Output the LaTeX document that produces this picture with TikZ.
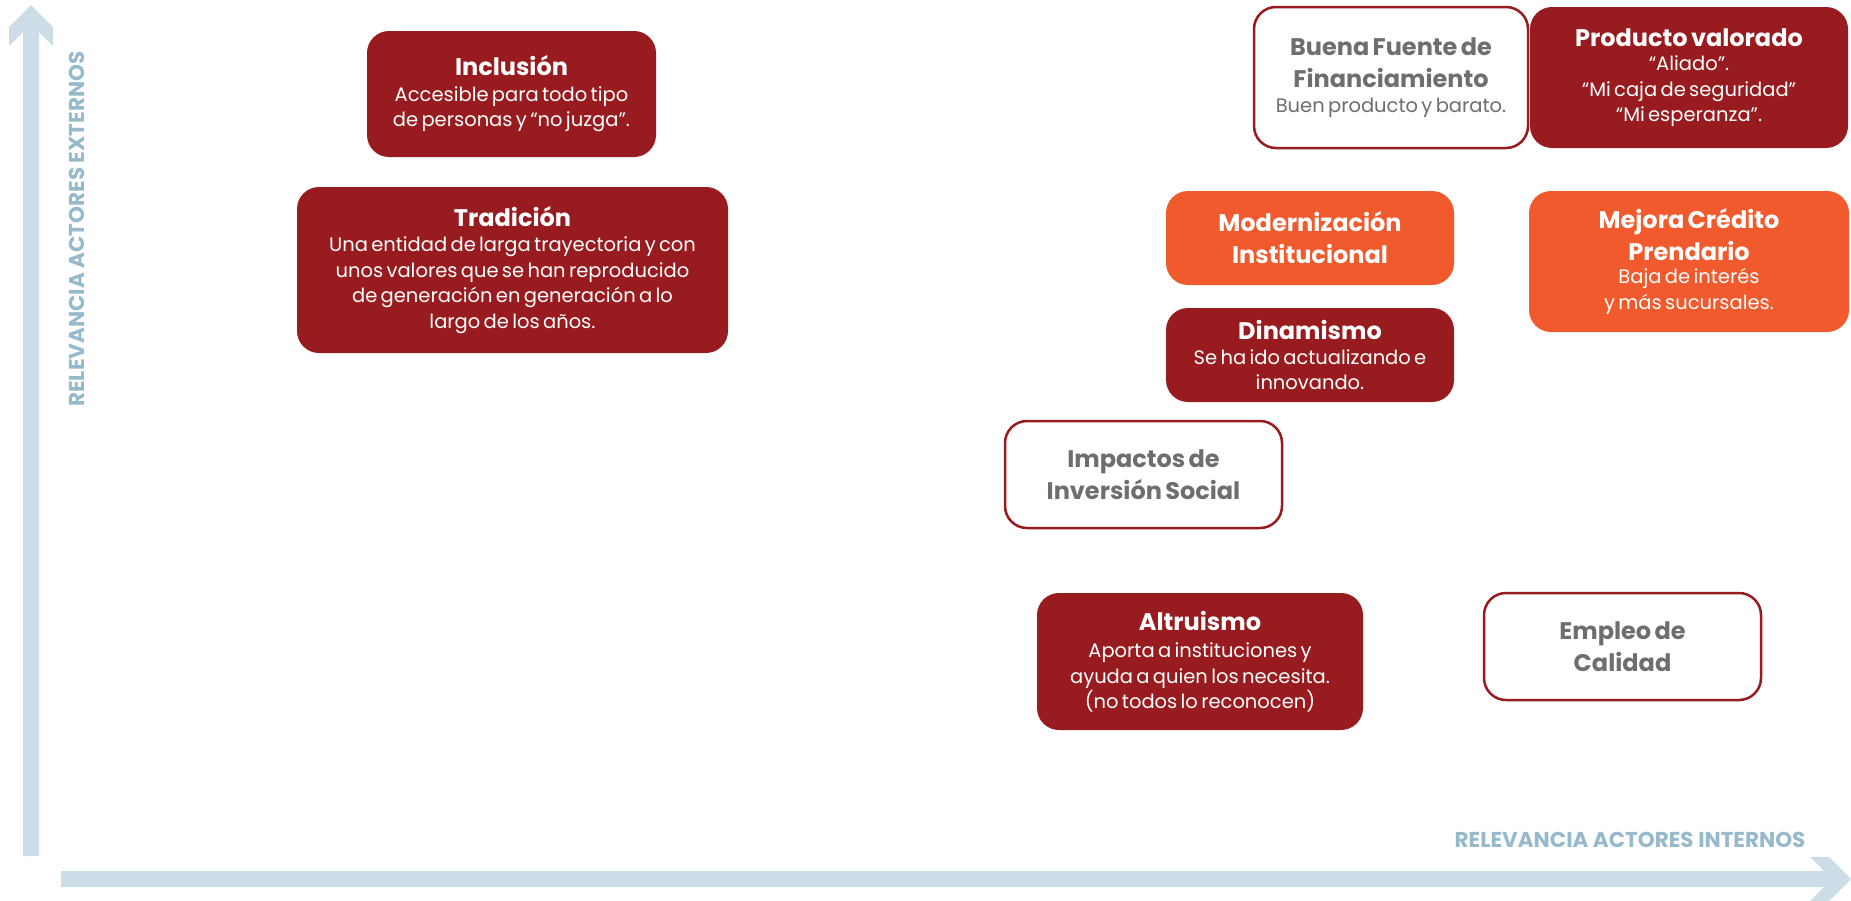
\documentclass[tikz,border=0pt]{standalone}
\usepackage{fontspec}
\setmainfont{Poppins}
\definecolor{dred}{HTML}{981C1F}
\definecolor{orng}{HTML}{F15A2C}
\definecolor{txtgray}{HTML}{6D6E71}
\definecolor{axisblue}{HTML}{CCDDE7}
\definecolor{axistext}{HTML}{97B9CC}
\newcommand{\cardtitle}{\fontsize{24}{32}\selectfont\bfseries}
\newcommand{\cardbody}{\fontsize{19.5}{25.5}\selectfont}
\tikzset{
  card/.style={rounded corners=22pt, align=center, inner sep=0pt, anchor=center},
  redcard/.style={card, fill=dred, text=white},
  orangecard/.style={card, fill=orng, text=white},
  linecard/.style={card, draw=dred, line width=2.5pt, fill=white, text=txtgray},
  axislabel/.style={text=axistext, font=\fontsize{21.5}{24}\selectfont\bfseries, inner sep=0pt}
}
\begin{document}
\begin{tikzpicture}[x=1pt,y=-1pt]
\useasboundingbox (0,0) rectangle (1851,900);
\clip (0,0) rectangle (1851,900);
% vertical axis
\fill[axisblue] (31,5) -- (53,27) -- (53,46) -- (39,32) -- (39,856) -- (23,856) -- (23,32) -- (9,46) -- (9,27) -- cycle;
% horizontal axis
\fill[axisblue] (1851,879) -- (1829,857) -- (1810,857) -- (1824,871) -- (61,871) -- (61,887) -- (1824,887) -- (1810,901) -- (1829,901) -- cycle;
\node[axislabel, rotate=90] (ylab) at (77,229) {RELEVANCIA ACTORES EXTERNOS};
\node[axislabel, anchor=base] (xlab) at (1630,847) {RELEVANCIA ACTORES INTERNOS};

\node[redcard, minimum width=289pt, minimum height=126pt, text width=285pt] (incl) at (511.5,94)
  {{\cardtitle Inclusión\par}\vspace{0pt}{\cardbody Accesible para todo tipo\\de personas y “no juzga”.\par}};
\node[redcard, minimum width=431pt, minimum height=166pt, text width=425pt] (trad) at (512.5,270)
  {{\cardtitle Tradición\par}\vspace{0pt}{\cardbody Una entidad de larga trayectoria y con\\unos valores que se han reproducido\\de generación en generación a lo\\largo de los años.\par}};
\node[linecard, minimum width=274pt, minimum height=141pt, text width=270pt] (buena) at (1391,77.5)
  {{\cardtitle Buena Fuente de\\Financiamiento\par}\vspace{-1pt}{\cardbody Buen producto y barato.\par}};
\node[redcard, minimum width=318pt, minimum height=141pt, text width=314pt] (prod) at (1689,77.5)
  {{\cardtitle Producto valorado\par}\vspace{-1pt}{\cardbody “Aliado”.\\“Mi caja de seguridad”\\“Mi esperanza”.\par}};
\node[orangecard, minimum width=288pt, minimum height=94pt, text width=284pt] (moder) at (1310,238)
  {{\cardtitle Modernización\\Institucional\par}};
\node[redcard, minimum width=288pt, minimum height=94pt, text width=284pt] (dina) at (1310,355)
  {{\cardtitle Dinamismo\par}\vspace{-1pt}{\cardbody Se ha ido actualizando e\\innovando.\par}};
\node[orangecard, minimum width=320pt, minimum height=141pt, text width=316pt] (mejora) at (1689,261.5)
  {{\cardtitle Mejora Crédito\\Prendario\par}\vspace{-2pt}{\cardbody Baja de interés\\y más sucursales.\par}};
\node[linecard, minimum width=277pt, minimum height=107pt, text width=273pt] (impact) at (1143.5,474.5)
  {{\cardtitle Impactos de\\Inversión Social\par}};
\node[redcard, minimum width=326pt, minimum height=137pt, text width=322pt] (altru) at (1200,661.5)
  {{\cardtitle Altruismo\par}\vspace{2pt}{\cardbody Aporta a instituciones y\\ayuda a quien los necesita.\\(no todos lo reconocen)\par}};
\node[linecard, minimum width=277pt, minimum height=107pt, text width=273pt] (empleo) at (1622.5,646.5)
  {{\cardtitle Empleo de\\Calidad\par}};
\end{tikzpicture}
\end{document}
